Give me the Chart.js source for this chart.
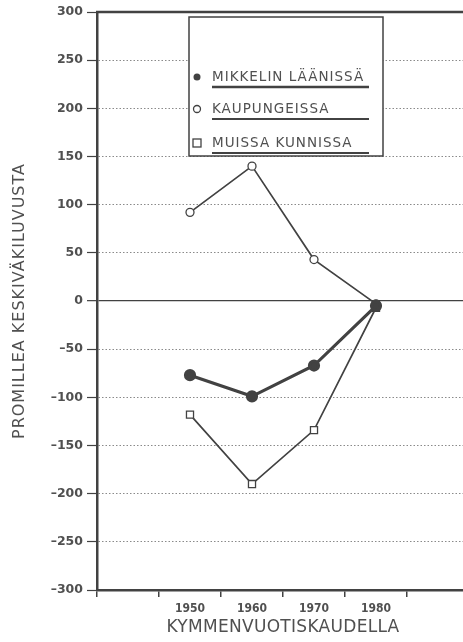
<!DOCTYPE html>
<html>
<head>
<meta charset="utf-8">
<script src="https://cdn.jsdelivr.net/npm/chart.js@4.4.1/dist/chart.umd.min.js"></script>
<style>
html,body{margin:0;padding:0;background:#fff;overflow:hidden;}
#wrap{width:480px;height:642px;}
</style>
</head>
<body>
<div id="wrap"><canvas id="c" width="480" height="642"></canvas></div>
<script>
const categories = ['', '1950', '1960', '1970', '1980', ''];
const mikkelinLaanissa = [null, -77, -99, -67, -5, null];
const kaupungeissa = [null, 92, 140, 43, -3, null];
const muissaKunnissa = [null, -118, -190, -134, -7, null];
const seriesLabels = ['MIKKELIN LÄÄNISSÄ', 'KAUPUNGEISSA', 'MUISSA KUNNISSA'];
const yTitle = 'PROMILLEA KESKIVÄKILUVUSTA';
const xTitle = 'KYMMENVUOTISKAUDELLA';

const ink = '#424242';
const textCol = '#505050';
const fontFam = "'DejaVu Sans',sans-serif";
const condFam = "'DejaVu Sans Condensed','DejaVu Sans',sans-serif";

const decorPlugin = {
  id: 'decor',
  afterDraw(chart) {
    const ctx = chart.ctx;
    const a = chart.chartArea;
    ctx.save();
    // axis titles
    ctx.fillStyle = textCol;
    ctx.textAlign = 'center';
    ctx.textBaseline = 'middle';
    ctx.font = "16px " + fontFam;
    ctx.letterSpacing = '1px';
    ctx.save();
    ctx.translate(20, (a.top + a.bottom) / 2);
    ctx.rotate(-Math.PI / 2);
    ctx.fillText(yTitle, 0, 0);
    ctx.restore();
    ctx.font = "17px " + fontFam;
    ctx.letterSpacing = '0.3px';
    ctx.fillText(xTitle, (a.left + a.right) / 2, 628);

    // legend box
    const x0 = 189, y0 = 17, x1 = 383, y1 = 156;
    ctx.letterSpacing = '0px';
    ctx.fillStyle = '#fff';
    ctx.fillRect(x0, y0, x1 - x0, y1 - y0);
    ctx.strokeStyle = ink;
    ctx.lineWidth = 1.5;
    ctx.strokeRect(x0, y0, x1 - x0, y1 - y0);
    const rows = [77, 109, 143];
    chart.data.datasets.forEach((ds, i) => {
      const y = rows[i];
      ctx.lineWidth = 1.3;
      ctx.strokeStyle = ink;
      if (i === 0) {
        ctx.fillStyle = ink;
        ctx.beginPath(); ctx.arc(197, y, 3.5, 0, Math.PI * 2); ctx.fill();
      } else if (i === 1) {
        ctx.fillStyle = '#fff';
        ctx.beginPath(); ctx.arc(197, y, 3.5, 0, Math.PI * 2); ctx.fill(); ctx.stroke();
      } else {
        ctx.fillStyle = '#fff';
        ctx.fillRect(193, y - 4, 8, 8); ctx.strokeRect(193, y - 4, 8, 8);
      }
      ctx.fillStyle = textCol;
      ctx.font = "13.5px " + fontFam;
      ctx.letterSpacing = '1px';
      ctx.textBaseline = 'middle';
      ctx.textAlign = 'left';
      ctx.fillText(ds.label, 212, y);
      ctx.letterSpacing = '0px';
      ctx.strokeStyle = ink;
      ctx.lineWidth = i === 0 ? 2.5 : 1.8;
      ctx.beginPath(); ctx.moveTo(212, y + 10); ctx.lineTo(369, y + 10); ctx.stroke();
    });
    // top frame line
    ctx.strokeStyle = ink;
    ctx.lineWidth = 2.5;
    ctx.beginPath(); ctx.moveTo(a.left - 1, a.top); ctx.lineTo(chart.width, a.top); ctx.stroke();
    ctx.restore();
  }
};

new Chart(document.getElementById('c'), {
  type: 'line',
  data: {
    labels: categories,
    datasets: [
      {
        label: seriesLabels[0], data: mikkelinLaanissa,
        borderColor: ink, backgroundColor: ink, borderWidth: 3.2,
        pointStyle: 'circle', pointRadius: 4.5, pointBackgroundColor: ink, pointBorderColor: ink, order: 0
      },
      {
        label: seriesLabels[1], data: kaupungeissa,
        borderColor: ink, backgroundColor: '#fff', borderWidth: 1.7,
        pointStyle: 'circle', pointRadius: 4, pointBackgroundColor: '#fff', pointBorderColor: ink, pointBorderWidth: 1.3, order: 1
      },
      {
        label: seriesLabels[2], data: muissaKunnissa,
        borderColor: ink, backgroundColor: '#fff', borderWidth: 1.7,
        pointStyle: 'rect', pointRadius: 5, pointBackgroundColor: '#fff', pointBorderColor: ink, pointBorderWidth: 1.3, order: 2
      }
    ]
  },
  options: {
    responsive: false,
    animation: false,
    spanGaps: false,
    layout: { padding: { top: 12, right: 11, left: 0, bottom: 0 } },
    plugins: { legend: { display: false }, tooltip: { enabled: false } },
    scales: {
      x: {
        type: 'category',
        offset: true,
        grid: { offset: true, drawOnChartArea: false, drawTicks: true, tickLength: 7, color: ink, lineWidth: 1.5 },
        border: { display: true, color: ink, width: 2.5 },
        ticks: { color: textCol, font: { family: condFam, size: 12, weight: 'bold' }, padding: 5, autoSkip: false, maxRotation: 0 },
        title: { display: false, text: xTitle },
        afterFit(s) { s.height = 52; }
      },
      y: {
        min: -300, max: 300,
        ticks: {
          stepSize: 50, color: textCol, padding: 4,
          font: { family: fontFam, size: 12.5, weight: 'bold' },
          callback: v => v < 0 ? '\u2013' + Math.abs(v) : String(v)
        },
        grid: {
          color: ctx => ctx.tick && ctx.tick.value === 0 ? ink : '#8a8a8a',
          lineWidth: ctx => ctx.tick && ctx.tick.value === 0 ? 1.3 : 1,
          tickLength: 10, tickColor: ink, tickWidth: 1.2, tickBorderDash: []
        },
        border: {
          display: true, color: ink, width: 2.5,
          dash: ctx => ctx.tick && ctx.tick.value === 0 ? [] : [1.5, 2]
        },
        title: { display: false, text: yTitle },
        afterFit(s) { s.width = 97; }
      }
    }
  },
  plugins: [decorPlugin]
});
</script>
</body>
</html>
